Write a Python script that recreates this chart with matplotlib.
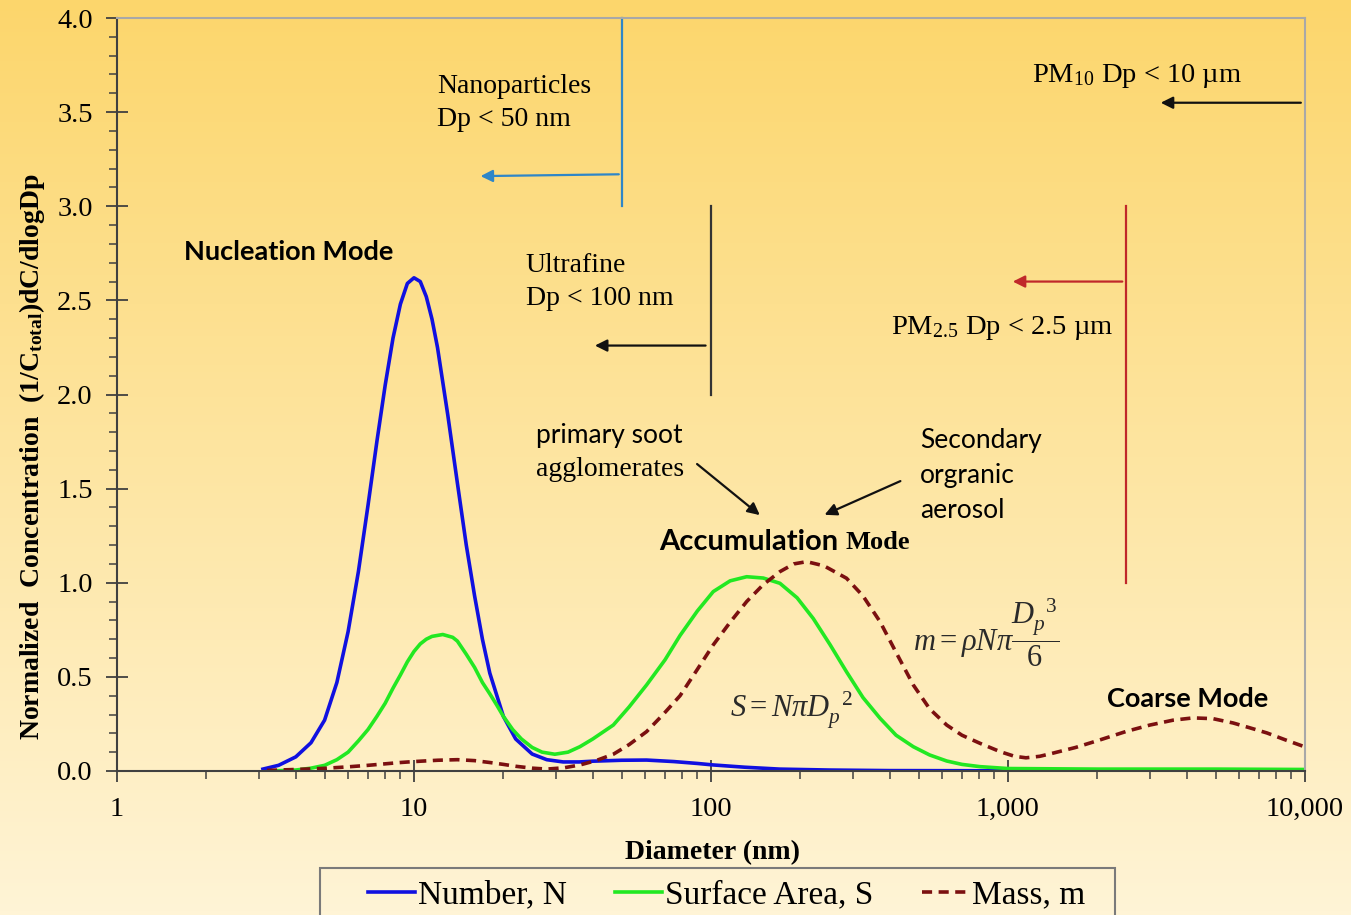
import numpy as np
import matplotlib as mpl
mpl.use('Agg')
import matplotlib.pyplot as plt
from matplotlib.patches import Rectangle
from matplotlib.ticker import FixedLocator, MultipleLocator, NullFormatter

mpl.rcParams['font.family'] = 'Liberation Serif'
mpl.rcParams['mathtext.fontset'] = 'custom'
mpl.rcParams['mathtext.rm'] = 'Liberation Serif'
mpl.rcParams['mathtext.it'] = 'Liberation Serif:italic'
mpl.rcParams['mathtext.bf'] = 'Liberation Serif:bold'

#-----------------------------------------------------------------------------
# values (diameter in nm)
d_num = [3.1, 3.5, 4.0, 4.5, 5.0, 5.5, 6.0, 6.5, 7.0, 7.5, 8.0, 8.5, 9.0, 9.5, 10.0,
         10.5, 11.0, 11.5, 12.0, 13.0, 14.0, 15.0, 16.0, 17.0, 18.0, 20.0, 22.0, 25.0,
         28.0, 31.8, 36.0, 40.0, 50.0, 60.7, 75.0, 90.0, 101.8, 130.0, 170.0, 250.0,
         400.0, 1000.0, 10000.0]
num = [0.01, 0.03, 0.075, 0.15, 0.27, 0.47, 0.74, 1.06, 1.41, 1.75, 2.05, 2.30, 2.48, 2.59, 2.62,
       2.60, 2.52, 2.40, 2.25, 1.89, 1.53, 1.20, 0.93, 0.70, 0.52, 0.29, 0.17, 0.09,
       0.06, 0.048, 0.048, 0.052, 0.057, 0.058, 0.05, 0.04, 0.032, 0.02, 0.01, 0.005,
       0.002, 0.001, 0.0]

d_surf = [3.3, 4.0, 4.5, 5.0, 5.5, 6.0, 6.5, 7.0, 7.5, 8.0, 8.5, 9.0, 9.5, 10.0, 10.5,
          11.0, 11.5, 12.5, 13.5, 14.0, 15.0, 16.0, 17.0, 18.0, 19.0, 20.0, 21.5, 23.0,
          25.0, 27.0, 29.8, 33.0, 36.2, 40.0, 46.9, 53.0, 60.7, 70.0, 78.7, 90.0, 101.8,
          116.0, 131.9, 150.0, 170.7, 195.0, 221.0, 252.0, 286.0, 325.0, 371.0, 420.0,
          480.0, 545.0, 622.0, 700.0, 805.0, 1000.0, 2000.0, 5000.0, 10000.0]
surf = [0.0, 0.005, 0.015, 0.03, 0.06, 0.10, 0.16, 0.22, 0.29, 0.36, 0.44, 0.51, 0.58, 0.635, 0.675,
        0.70, 0.715, 0.725, 0.71, 0.69, 0.62, 0.55, 0.47, 0.41, 0.35, 0.29, 0.22, 0.17,
        0.125, 0.10, 0.089, 0.10, 0.129, 0.17, 0.244, 0.34, 0.457, 0.59, 0.72, 0.85, 0.953,
        1.01, 1.032, 1.025, 0.997, 0.92, 0.81, 0.67, 0.527, 0.39, 0.28, 0.19,
        0.129, 0.085, 0.053, 0.035, 0.023, 0.013, 0.01, 0.01, 0.008]

d_mass = [3.2, 4.0, 5.0, 6.0, 7.0, 8.0, 9.0, 10.0, 12.0, 14.0, 16.0, 18.0, 20.0, 22.0,
          25.0, 28.0, 32.0, 36.2, 41.0, 46.9, 53.0, 60.7, 69.0, 78.7, 90.0, 101.8, 116.0,
          131.9, 150.0, 170.7, 190.0, 210.0, 240.0, 260.0, 286.0, 325.0, 371.0, 420.0,
          480.0, 545.0, 622.0, 700.0, 805.0, 940.0, 1052.0, 1150.0, 1280.0, 1420.0,
          1690.0, 2040.0, 2500.0, 3006.0, 3600.0, 4200.0, 4900.0, 5730.0, 6500.0,
          7450.0, 8600.0, 10000.0]
mass = [0.003, 0.008, 0.014, 0.022, 0.03, 0.038, 0.045, 0.05, 0.057, 0.06, 0.055, 0.045,
        0.035, 0.025, 0.015, 0.01, 0.017, 0.032, 0.055, 0.089, 0.14, 0.209, 0.30, 0.40,
        0.54, 0.67, 0.79, 0.90, 0.99, 1.059, 1.10, 1.112, 1.09, 1.06, 1.024, 0.93, 0.793,
        0.63, 0.457, 0.33, 0.244, 0.19, 0.147, 0.103, 0.078, 0.07, 0.078, 0.095,
        0.125, 0.165, 0.21, 0.244, 0.27, 0.282, 0.278, 0.255, 0.23, 0.202, 0.165, 0.128]

xticks = [1, 10, 100, 1000, 10000]
xticklabels = ['1', '10', '100', '1,000', '10,000']

#-----------------------------------------------------------------------------
fig = plt.figure(figsize=(13.51, 9.15), dpi=100)

# background gradient
bg = fig.add_axes([0, 0, 1, 1], zorder=-10)
top = np.array([252, 214, 108]) / 255.
bot = np.array([255, 244, 214]) / 255.
t = np.linspace(0, 1, 256)[:, None]
grad = top[None, :] * (1 - t) + bot[None, :] * t
bg.imshow(grad[:, None, :], aspect='auto', extent=[0, 1, 0, 1])
bg.axis('off')

ax = fig.add_axes([0.0866, 0.1574, 0.8793, 0.8229])
ax.set_facecolor('none')

ax.plot(d_num, num, color='#1010E0', lw=2.6, label='Number, N', solid_joinstyle='round')
ax.plot(d_surf, surf, color='#22E822', lw=2.6, label='Surface Area, S', solid_joinstyle='round')
ax.plot(d_mass, mass, color='#7B1010', lw=2.6, ls=(0, (2.8, 1.8)), label='Mass, m')

ax.set_xscale('log')
ax.set_xlim(1, 10000)
ax.set_ylim(0, 4.0)
ax.xaxis.set_major_locator(FixedLocator(xticks))
ax.set_xticklabels(xticklabels)
ax.xaxis.set_minor_locator(FixedLocator([m * 10**k for k in range(4) for m in range(2, 10)]))
ax.xaxis.set_minor_formatter(NullFormatter())
ax.yaxis.set_major_locator(MultipleLocator(0.5))
ax.yaxis.set_minor_locator(MultipleLocator(0.1))
ax.yaxis.set_major_formatter(mpl.ticker.FormatStrFormatter('%.1f'))

ax.tick_params(which='major', direction='inout', length=16, width=1.3, color='#404040',
               labelsize=20.5)
ax.tick_params(which='minor', direction='out', length=6, width=1.1, color='#404040')
ax.tick_params(axis='x', which='major', pad=10.5)
ax.tick_params(axis='y', which='major', pad=9.5)
for s in ['left', 'bottom']:
    ax.spines[s].set_color('#404040'); ax.spines[s].set_linewidth(1.5)
for s in ['top', 'right']:
    ax.spines[s].set_color('#A8A8A8'); ax.spines[s].set_linewidth(1.5)

ax.set_xlabel('Diameter (nm)', fontsize=20, fontweight='bold')
ax.xaxis.set_label_coords(0.501, -0.092)
ax.set_ylabel(r'Normalized  Concentration  (1/C$_{\mathbf{total}}$)dC/dlogDp',
              fontsize=20, fontweight='bold')
ax.yaxis.set_label_coords(-0.059, 0.418)

# size-class markers
ax.plot([50, 50], [3.0, 4.0], color='#2E86C8', lw=1.6, clip_on=False)
ax.annotate('', xy=(16.4, 3.16), xytext=(50, 3.17),
            arrowprops=dict(arrowstyle='-|>', color='#2E86C8', lw=1.6, mutation_scale=18))
ax.plot([100, 100], [2.0, 3.0], color='#333333', lw=1.6)
ax.annotate('', xy=(39.8, 2.26), xytext=(98, 2.26),
            arrowprops=dict(arrowstyle='-|>', color='#111111', lw=1.6, mutation_scale=18))
ax.plot([2500, 2500], [1.0, 3.0], color='#C0282A', lw=1.6)
ax.annotate('', xy=(1016, 2.6), xytext=(2480, 2.6),
            arrowprops=dict(arrowstyle='-|>', color='#C0282A', lw=1.6, mutation_scale=18))
ax.annotate('', xy=(3200, 3.55), xytext=(9900, 3.55),
            arrowprops=dict(arrowstyle='-|>', color='#111111', lw=1.6, mutation_scale=18))

ax.text(12, 3.55, 'Nanoparticles\nDp < 50 nm', fontsize=20, ha='left', va='center',
        linespacing=1.42)
ax.text(23.8, 2.60, 'Ultrafine\nDp < 100 nm', fontsize=20, ha='left', va='center',
        linespacing=1.42)
ax.text(1205, 3.69, r'PM$_{\mathrm{10}}$ Dp < 10 µm', fontsize=20.5, ha='left', va='center')
ax.text(404, 2.355, r'PM$_{\mathrm{2.5}}$ Dp < 2.5 µm', fontsize=20.5, ha='left', va='center')

sans = 'Lato'
ax.text(3.79, 2.757, 'Nucleation Mode', family=sans, fontweight='bold', fontsize=19.5,
        ha='center', va='center')
ax.text(267.7, 1.216, 'Accumulation', family=sans, fontweight='bold', fontsize=21,
        ha='right', va='center')
ax.text(284.8, 1.216, 'Mode', fontweight='bold', fontsize=19, ha='left', va='center')
ax.text(4036, 0.382, 'Coarse Mode', family=sans, fontweight='bold', fontsize=19.5,
        ha='center', va='center')

ax.text(25.8, 1.78, 'primary soot', family=sans, fontsize=19, ha='left', va='center')
ax.text(25.8, 1.60, 'agglomerates', fontsize=20, ha='left', va='center')
ax.text(505, 1.572, 'Secondary\norgranic\naerosol', family=sans, fontsize=19,
        ha='left', va='center', linespacing=1.5)
ax.annotate('', xy=(148.5, 1.35), xytext=(88.3, 1.64),
            arrowprops=dict(arrowstyle='-|>', color='#111111', lw=1.6, mutation_scale=18))
ax.annotate('', xy=(236.6, 1.355), xytext=(443, 1.546),
            arrowprops=dict(arrowstyle='-|>', color='#111111', lw=1.6, mutation_scale=18))

ax.text(186, 0.324, r'$S = N\pi D_p^{\ \ 2}$', fontsize=22, color='#2a2a2a',
        ha='center', va='center')
ax.text(843, 0.733, r'$m = \rho N\pi\dfrac{D_p^{\ \ 3}}{6}$', fontsize=22, color='#2a2a2a',
        ha='center', va='center')

# legend: frame drawn separately so the box can run past the bottom edge
leg = fig.legend(loc='upper left', bbox_to_anchor=(368 / 1351, 1 - 880 / 915), ncol=3,
                 fontsize=24, frameon=False, handlelength=1.4, handletextpad=0.1,
                 columnspacing=1.45, borderpad=0, borderaxespad=0)
fig.patches.append(Rectangle((320 / 1351, -0.02), 795 / 1351, 0.02 + 47 / 915,
                             transform=fig.transFigure, fill=False,
                             edgecolor='#7a7a7a', lw=1.5))

fig.savefig('out.png', dpi=100)
